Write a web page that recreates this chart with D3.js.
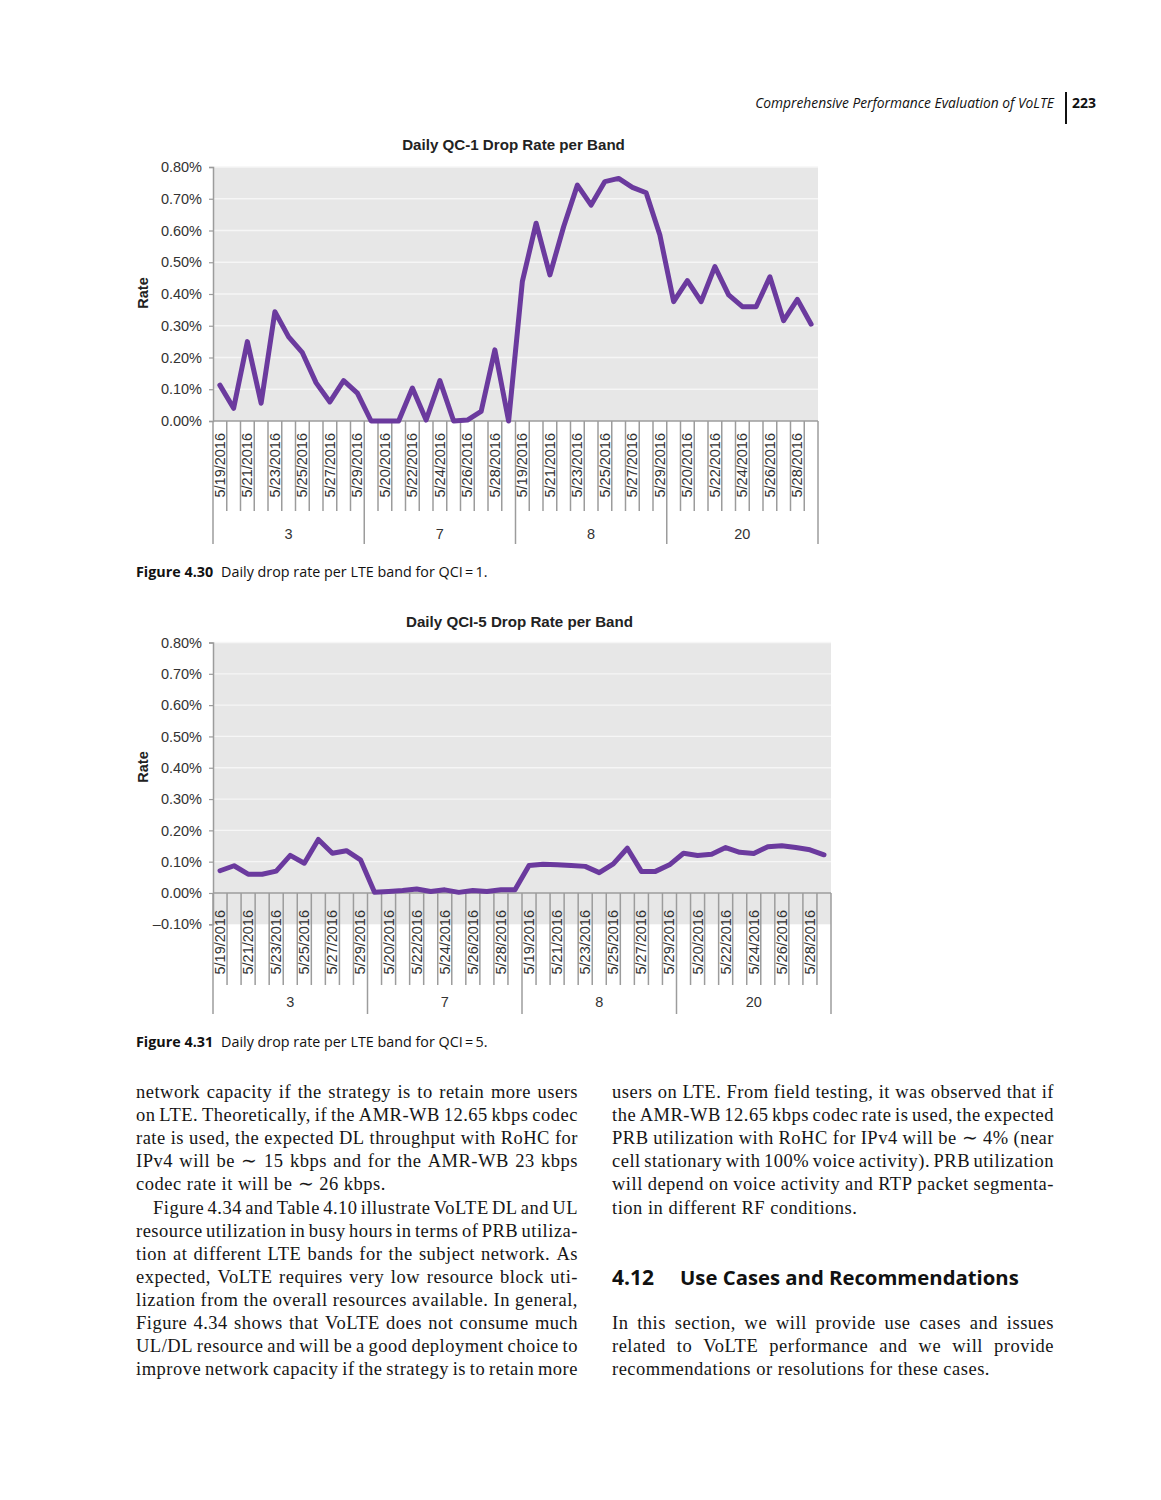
<!DOCTYPE html>
<html><head><meta charset="utf-8">
<script src="https://cdn.jsdelivr.net/npm/d3@7/dist/d3.min.js"></script>
<style>body{margin:0;background:#fff}svg{display:block}</style>
</head><body>
<svg id="page" width="1161" height="1500"></svg>
<script>
// ---------------- DATA ----------------
const bands = ["3", "7", "8", "20"];
const dates = ["5/19/2016","5/20/2016","5/21/2016","5/22/2016","5/23/2016","5/24/2016",
               "5/25/2016","5/26/2016","5/27/2016","5/28/2016","5/29/2016"];
// QCI-1 drop rate (%) per band, one value per date
const qci1Band3  = [0.113, 0.040, 0.250, 0.056, 0.344, 0.265, 0.215, 0.120, 0.060, 0.127, 0.088];
const qci1Band7  = [0.000, 0.000, 0.000, 0.104, 0.003, 0.127, 0.000, 0.003, 0.030, 0.224, 0.000];
const qci1Band8  = [0.440, 0.623, 0.460, 0.612, 0.743, 0.680, 0.754, 0.764, 0.736, 0.719, 0.586];
const qci1Band20 = [0.376, 0.442, 0.376, 0.486, 0.397, 0.360, 0.360, 0.454, 0.316, 0.383, 0.305];
// QCI-5 drop rate (%) per band
const qci5Band3  = [0.071, 0.087, 0.060, 0.060, 0.070, 0.120, 0.095, 0.171, 0.127, 0.135, 0.106];
const qci5Band7  = [0.002, 0.005, 0.008, 0.013, 0.005, 0.010, 0.002, 0.008, 0.005, 0.010, 0.010];
const qci5Band8  = [0.088, 0.092, 0.090, 0.088, 0.085, 0.065, 0.093, 0.143, 0.069, 0.069, 0.090];
const qci5Band20 = [0.127, 0.120, 0.124, 0.145, 0.130, 0.126, 0.148, 0.151, 0.145, 0.138, 0.122];
const yTicks1 = [0, 0.1, 0.2, 0.3, 0.4, 0.5, 0.6, 0.7, 0.8];
const yTicks2 = [-0.1, 0, 0.1, 0.2, 0.3, 0.4, 0.5, 0.6, 0.7, 0.8];
const title1 = "Daily QC-1 Drop Rate per Band";
const title2 = "Daily QCI-5 Drop Rate per Band";
const yLabel = "Rate";

const headerText = "Comprehensive Performance Evaluation of VoLTE";
const pageNumber = "223";
const caption1 = ["Figure 4.30", "Daily drop rate per LTE band for QCI\u2009=\u20091."];
const caption2 = ["Figure 4.31", "Daily drop rate per LTE band for QCI\u2009=\u20095."];
const leftLines = [
  "network capacity if the strategy is to retain more users",
  "on LTE. Theoretically, if the AMR-WB 12.65 kbps codec",
  "rate is used, the expected DL throughput with RoHC for",
  "IPv4 will be \u223C 15 kbps and for the AMR-WB 23 kbps",
  "codec rate it will be \u223C 26  kbps.",
  "Figure 4.34 and Table 4.10 illustrate VoLTE DL and UL",
  "resource utilization in busy hours in terms of PRB utiliza-",
  "tion at different LTE bands for the subject network. As",
  "expected, VoLTE requires very low resource block uti-",
  "lization from the overall resources available. In general,",
  "Figure 4.34 shows that VoLTE does not consume much",
  "UL/DL resource and will be a good deployment choice to",
  "improve network capacity if the strategy is to retain more"
];
const leftLast = [false,false,false,false,true,false,false,false,false,false,false,false,false];
const leftIndent = [0,0,0,0,0,1,0,0,0,0,0,0,0];
const rightLines = [
  "users on LTE. From field testing, it was observed that if",
  "the AMR-WB 12.65 kbps codec rate is used, the expected",
  "PRB utilization with RoHC for IPv4 will be \u223C 4% (near",
  "cell stationary with 100% voice activity). PRB utilization",
  "will depend on voice activity and RTP packet segmenta-",
  "tion in different RF conditions."
];
const rightLast = [false,false,false,false,false,true];
const sectionNum = "4.12";
const sectionTitle = "Use Cases and Recommendations";
const rightLines2 = [
  "In this section, we will provide use cases and issues",
  "related to VoLTE performance and we will provide",
  "recommendations or resolutions for these cases."
];
const rightLast2 = [false,false,true];

// ---------------- DRAW ----------------
const svg = d3.select("#page");
const SANS = "'Liberation Sans', Arial, sans-serif";
const MYRIAD = "'Open Sans', 'Noto Sans', sans-serif";
const SERIF = "'Liberation Serif', 'Times New Roman', serif";
const AXIS = "#9c9c9c";
const LINE = "#6b3a9e";
const TXT = "#333";

function fitWidth(sel, target) {
  const w = sel.node().getComputedTextLength();
  const fs = parseFloat(sel.style("font-size"));
  sel.style("font-size", (fs * target / w) + "px");
}

function drawChart(cfg) {
  const g = svg.append("g");
  const series = [cfg.s3, cfg.s7, cfg.s8, cfg.s20];
  const rows = [];
  bands.forEach((b, bi) => dates.forEach((d, di) => rows.push({band: b, date: d, key: b + "|" + d, v: series[bi][di]})));
  const x = d3.scaleBand().domain(rows.map(r => r.key)).range([cfg.left, cfg.right]).padding(0);
  const y = d3.scaleLinear().domain(cfg.domain).range([cfg.bottom, cfg.top]);
  const y0 = y(0);

  // plot background
  g.append("rect").attr("x", cfg.left).attr("y", cfg.top)
    .attr("width", cfg.right - cfg.left).attr("height", cfg.bottom - cfg.top).attr("fill", "#e7e7e7");
  // gridlines
  g.selectAll(".grid").data(cfg.ticks.filter(t => t > 0)).join("line")
    .attr("x1", cfg.left).attr("x2", cfg.right)
    .attr("y1", d => y(d)).attr("y2", d => y(d))
    .attr("stroke", "#f6f6f6").attr("stroke-width", 1.3);

  // y axis
  const fmt = v => (v < 0 ? "\u2013" : "") + Math.abs(v).toFixed(2) + "%";
  const ya = g.append("g").attr("transform", `translate(${cfg.left},0)`)
    .call(d3.axisLeft(y).tickValues(cfg.ticks).tickSize(4).tickPadding(7).tickFormat(fmt));
  ya.select(".domain").attr("stroke", AXIS).attr("stroke-width", 1.5);
  ya.selectAll(".tick line").attr("stroke", AXIS).attr("stroke-width", 1.2);
  ya.selectAll(".tick text").attr("fill", TXT).style("font-family", SANS).style("font-size", "14.5px");

  // x axis line
  g.append("line").attr("x1", cfg.left).attr("x2", cfg.right).attr("y1", y0).attr("y2", y0)
    .attr("stroke", AXIS).attr("stroke-width", 1.5);

  // category tick lines
  const edges = rows.map((r, i) => ({x: x(r.key), sep: i % dates.length === 0}));
  edges.push({x: cfg.right, sep: true});
  g.selectAll(".tk").data(edges).join("line")
    .attr("x1", d => d.x).attr("x2", d => d.x)
    .attr("y1", y0).attr("y2", d => d.sep ? cfg.sepBottom : cfg.tickBottom)
    .attr("stroke", AXIS).attr("stroke-width", 1.5);

  // date labels (every other)
  g.selectAll(".dl").data(rows.filter((r, i) => i % 2 === 0)).join("text")
    .attr("transform", d => `translate(${x(d.key) + x.bandwidth() / 2},${cfg.dateTop}) rotate(-90)`)
    .attr("text-anchor", "end").attr("dominant-baseline", "central")
    .style("font-family", SANS).style("font-size", "14.5px").attr("fill", TXT)
    .text(d => d.date);

  // band labels
  g.selectAll(".bl").data(bands).join("text")
    .attr("x", b => (x(b + "|" + dates[0]) + x(b + "|" + dates[dates.length - 1]) + x.bandwidth()) / 2)
    .attr("y", cfg.bandY).attr("text-anchor", "middle")
    .style("font-family", SANS).style("font-size", "14.5px").attr("fill", TXT)
    .text(b => b);

  // line
  const line = d3.line().x(d => x(d.key) + x.bandwidth() / 2).y(d => y(d.v));
  g.append("path").datum(rows).attr("d", line).attr("fill", "none")
    .attr("stroke", LINE).attr("stroke-width", 5).attr("stroke-linejoin", "round").attr("stroke-linecap", "round");

  // title
  const t = g.append("text").attr("x", cfg.titleX).attr("y", cfg.titleY).attr("text-anchor", "middle")
    .style("font-family", SANS).style("font-weight", "bold").style("font-size", "15px").attr("fill", "#222")
    .text(cfg.title);
  fitWidth(t, cfg.titleW);

  // y label
  g.append("text").attr("transform", `translate(${cfg.ylabX},${cfg.ylabY}) rotate(-90)`)
    .attr("text-anchor", "middle").attr("dominant-baseline", "central")
    .style("font-family", SANS).style("font-weight", "bold").style("font-size", "14.5px").attr("fill", "#222")
    .text(yLabel);
}

drawChart({s3: qci1Band3, s7: qci1Band7, s8: qci1Band8, s20: qci1Band20,
  left: 213, right: 818, top: 167, bottom: 421, domain: [0, 0.8], ticks: yTicks1,
  dateTop: 433, tickBottom: 511, sepBottom: 544, bandY: 539,
  title: title1, titleX: 513.5, titleY: 150, titleW: 223, ylabX: 143, ylabY: 293});

drawChart({s3: qci5Band3, s7: qci5Band7, s8: qci5Band8, s20: qci5Band20,
  left: 213, right: 831, top: 642.5, bottom: 924.3, domain: [-0.1, 0.8], ticks: yTicks2,
  dateTop: 910, tickBottom: 985, sepBottom: 1014, bandY: 1007,
  title: title2, titleX: 519.5, titleY: 627, titleW: 227, ylabX: 143, ylabY: 767});

// header
const ht = svg.append("text").attr("x", 1054).attr("y", 108).attr("text-anchor", "end")
  .style("font-family", MYRIAD).style("font-style", "italic").style("font-size", "13px").attr("fill", "#111")
  .text(headerText);
fitWidth(ht, 299);
svg.append("line").attr("x1", 1066).attr("x2", 1066).attr("y1", 92).attr("y2", 124).attr("stroke", "#111").attr("stroke-width", 2);
const pn = svg.append("text").attr("x", 1072).attr("y", 108)
  .style("font-family", MYRIAD).style("font-weight", "bold").style("font-size", "13px").attr("fill", "#111")
  .text(pageNumber);
fitWidth(pn, 24);

// captions
function caption(parts, y) {
  const t = svg.append("text").attr("x", 136).attr("y", y)
    .style("font-family", MYRIAD).style("font-size", "14px").attr("fill", "#111");
  t.append("tspan").style("font-weight", "bold").text(parts[0]);
  t.append("tspan").attr("dx", 8).text(parts[1]);
  const w = t.node().getComputedTextLength() + 8;
  const fs = 14 * 352 / w;
  t.style("font-size", fs + "px");
}
caption(caption1, 577);
caption(caption2, 1047);

// body text
const BODY_FS = 18.5, BODY_LS = 0.5;
function justified(lines, lastFlags, indents, x0, width, yStart, lh) {
  lines.forEach((ln, i) => {
    const xs = x0 + (indents ? indents[i] * 17 : 0);
    const w = width - (indents ? indents[i] * 17 : 0);
    const y = yStart + i * lh;
    let fs = BODY_FS;
    const t = svg.append("text").attr("y", y)
      .style("font-family", SERIF).style("font-size", fs + "px")
      .style("letter-spacing", BODY_LS + "px").attr("fill", "#151515");
    if (lastFlags[i]) {
      t.attr("x", xs).text(ln);
      return;
    }
    const words = ln.split(/\s+/);
    const spans = words.map(wd => t.append("tspan").text(wd));
    let widths = spans.map(s => s.node().getComputedTextLength());
    let total = d3.sum(widths);
    const minGap = 3.2;
    if (total + minGap * (words.length - 1) > w) {
      fs = fs * (w - minGap * (words.length - 1)) / total;
      t.style("font-size", fs + "px");
      widths = spans.map(s => s.node().getComputedTextLength());
      total = d3.sum(widths);
    }
    const gap = (w - total) / (words.length - 1);
    let cx = xs;
    spans.forEach((s, k) => { s.attr("x", cx); cx += widths[k] + gap; });
  });
}
justified(leftLines, leftLast, leftIndent, 136, 442, 1098, 23.1);
justified(rightLines, rightLast, null, 612, 442, 1098, 23.1);
justified(rightLines2, rightLast2, null, 612, 442, 1329, 23.1);

// section heading
svg.append("text").attr("x", 612).attr("y", 1285)
  .style("font-family", MYRIAD).style("font-weight", "bold").style("font-size", "21px").attr("fill", "#111")
  .text(sectionNum);
const sh = svg.append("text").attr("x", 680).attr("y", 1285)
  .style("font-family", MYRIAD).style("font-weight", "bold").style("font-size", "21px").attr("fill", "#111")
  .text(sectionTitle);
fitWidth(sh, 339);
</script>
</body></html>
